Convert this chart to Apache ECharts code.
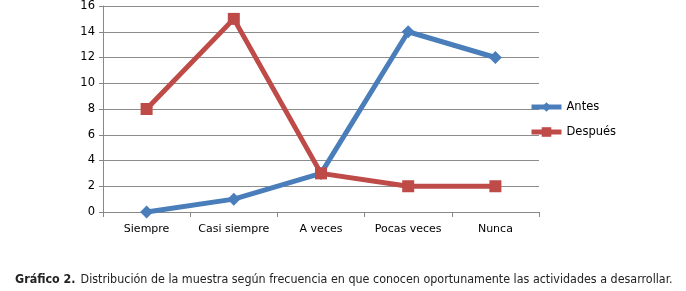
<!DOCTYPE html>
<html>
<head>
<meta charset="utf-8" />
<title>Gráfico 2</title>
<style>
  html, body { margin: 0; padding: 0; background: #fff; }
  #chart { width: 686px; height: 291px; }
</style>
</head>
<body>
<div id="chart"></div>
<script src="https://cdn.jsdelivr.net/npm/echarts@6/dist/echarts.min.js"></script>
<script>
  var categories = ['Siempre', 'Casi siempre', 'A veces', 'Pocas veces', 'Nunca'];
  var antes = [0, 1, 3, 14, 12];
  var despues = [8, 15, 3, 2, 2];
  var yTicks = { min: 0, max: 16, interval: 2 };

  var labelFont = 'DejaVu Sans';
  var chart = echarts.init(document.getElementById('chart'));
  var option = {
    animation: false,
    title: {
      text: '{b|Gráfico 2.} {n|Distribución de la muestra según frecuencia en que conocen oportunamente las actividades a desarrollar.}',
      left: 10,
      top: 266,
      textStyle: {
        fontWeight: 'normal',
        rich: {
          b: { fontFamily: 'DejaVu Sans Condensed', fontWeight: 'bold', fontSize: 12.4, color: '#222' },
          n: { fontFamily: 'DejaVu Sans Condensed', fontWeight: 'normal', fontSize: 12.4, color: '#222' }
        }
      }
    },
    grid: { left: 103, right: 147, top: 6, bottom: 79 },
    legend: {
      orient: 'vertical',
      left: 529,
      top: 101,
      padding: 0,
      itemGap: 13,
      itemWidth: 30,
      itemHeight: 12,
      lineStyle: { width: 5 },
      textStyle: { fontFamily: labelFont, fontSize: 11.5, color: '#000' },
      data: ['Antes', 'Después']
    },
    xAxis: {
      type: 'category',
      data: categories,
      boundaryGap: true,
      axisLine: { lineStyle: { color: '#888', width: 1 } },
      axisTick: { show: true, length: 5, interval: 0, lineStyle: { color: '#888' } },
      axisLabel: { interval: 0, fontFamily: labelFont, fontSize: 11, color: '#000', margin: 12 }
    },
    yAxis: {
      type: 'value',
      min: yTicks.min,
      max: yTicks.max,
      interval: yTicks.interval,
      axisLine: { show: true, lineStyle: { color: '#888', width: 1 } },
      axisTick: { show: true, length: 4, lineStyle: { color: '#888' } },
      axisLabel: { fontFamily: labelFont, fontSize: 11.5, color: '#000', margin: 8 },
      splitLine: { lineStyle: { color: '#8c8c8c', width: 1 } }
    },
    series: [
      {
        name: 'Antes',
        type: 'line',
        data: antes,
        symbol: 'diamond',
        symbolSize: 13,
        lineStyle: { color: '#4a7ebb', width: 5 },
        itemStyle: { color: '#4a7ebb' }
      },
      {
        name: 'Después',
        type: 'line',
        data: despues,
        symbol: 'rect',
        symbolSize: 12,
        lineStyle: { color: '#be4b48', width: 5 },
        itemStyle: { color: '#be4b48' }
      }
    ]
  };
  chart.setOption(option);
</script>
</body>
</html>
